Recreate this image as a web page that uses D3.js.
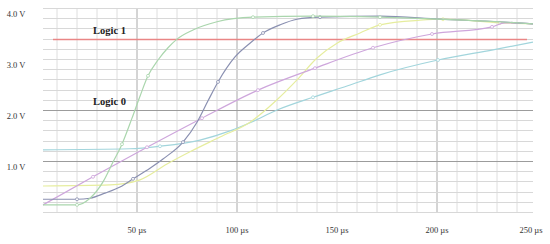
<!DOCTYPE html>
<html>
<head>
<meta charset="utf-8">
<script src="https://d3js.org/d3.v7.min.js"></script>
<style>
  body { margin: 0; background: #fff; }
  text { font-family: "Liberation Serif", "DejaVu Serif", serif; fill: #333; }
</style>
</head>
<body>
<div id="chart"></div>
<script>
var width = 550, height = 244;

// time in microseconds, voltage in volts
var xTicks = [50, 100, 150, 200, 250];
var yTicks = [1.0, 2.0, 3.0, 4.0];
var logic1 = 3.39;
var logic0 = 2.0;

var greenData = [[3,0.14],[20,0.14],[26.5,0.27],[33,0.59],[38,0.98],[42.5,1.33],[47.5,1.84],[51.5,2.27],[55.5,2.67],[60.5,2.98],[65.5,3.22],[70,3.39],[78,3.57],[90,3.73],[108,3.82],[138,3.84],[171.5,3.82],[201.5,3.78],[231.5,3.73],[248,3.69]];
var greenMarks = [1, 5, 8, 14, 15, 16];

var slateData = [[3,0.25],[20,0.25],[26.5,0.27],[34,0.37],[41.5,0.49],[48,0.65],[56.5,0.86],[63,1.04],[73,1.37],[80,1.76],[85.5,2.18],[90.5,2.55],[99,3.04],[106.5,3.31],[113,3.51],[121.5,3.67],[130,3.78],[141.5,3.82],[171.5,3.84],[201.5,3.78],[231.5,3.73],[248,3.69]];
var slateMarks = [1, 5, 8, 11, 14, 17];

var purpleData = [[3,0.14],[28,0.69],[55,1.27],[82.5,1.84],[110.5,2.39],[139,2.82],[168,3.22],[197.5,3.49],[227.5,3.63],[234,3.71],[248,3.69]];
var purpleMarks = [1, 2, 3, 4, 5, 6, 7, 8];

var yellowData = [[3,0.51],[36.5,0.53],[51.5,0.63],[65,0.94],[76.5,1.18],[91.5,1.47],[106.5,1.76],[120,2.2],[130,2.59],[140,3.02],[150,3.31],[161.5,3.51],[171.5,3.67],[191.5,3.76],[203,3.78],[231.5,3.71],[248,3.69]];
var yellowMarks = [12, 14, 15];

var cyanData = [[3,1.22],[46.5,1.24],[61.5,1.29],[81.5,1.41],[96.5,1.59],[106.5,1.75],[120,2.0],[138,2.25],[155,2.47],[171.5,2.69],[200.5,2.98],[228,3.18],[248,3.33]];
var cyanMarks = [2, 7, 10];

var series = [
  { data: cyanData, marks: cyanMarks, color: "#a2d5dc" },
  { data: yellowData, marks: yellowMarks, color: "#e6ed9e" },
  { data: purpleData, marks: purpleMarks, color: "#cea6dc" },
  { data: slateData, marks: slateMarks, color: "#8a90b1" },
  { data: greenData, marks: greenMarks, color: "#aad6ad" }
];

var x = d3.scaleLinear().domain([3, 248]).range([43, 533]);
var y = d3.scaleLinear().domain([0, 4]).range([212, 8]);

var svg = d3.select("#chart")
    .append("svg")
    .attr("width", width)
    .attr("height", height)

svg.append("rect").attr("width", width).attr("height", height).attr("fill", "#fff");

// minor grid
var grid = svg.append("g");
grid.selectAll("line.vx")
    .data(d3.range(10, 241, 10))
    .enter().append("line")
    .attr("x1", function(d){ return x(d); })
    .attr("x2", function(d){ return x(d); })
    .attr("y1", y(4)).attr("y2", y(0))
    .attr("stroke", function(d){ return (d == 50 || d == 100 || d == 200) ? "#aaa" : "#dedede"; })
    .attr("stroke-width", 1);

grid.selectAll("line.hy")
    .data(d3.range(0, 4.01, 0.2))
    .enter().append("line")
    .attr("x1", x(3)).attr("x2", x(248))
    .attr("y1", function(d){ return Math.round(y(d)) + 0.5; })
    .attr("y2", function(d){ return Math.round(y(d)) + 0.5; })
    .attr("stroke", "#d8d8d8")
    .attr("stroke-width", 1);

// darker lines at 1 V and logic 0
grid.selectAll("line.major")
    .data([1.0, logic0])
    .enter().append("line")
    .attr("x1", x(3)).attr("x2", x(248))
    .attr("y1", function(d){ return Math.round(y(d)) + 0.5; })
    .attr("y2", function(d){ return Math.round(y(d)) + 0.5; })
    .attr("stroke", "#9c9c9c")
    .attr("stroke-width", 1);

// logic 1 threshold
svg.append("line")
    .attr("x1", x(8)).attr("x2", x(245))
    .attr("y1", Math.round(y(logic1)) + 0.5).attr("y2", Math.round(y(logic1)) + 0.5)
    .attr("stroke", "#e98686")
    .attr("stroke-width", 1.4);

svg.append("text").attr("x", x(28)).attr("y", y(logic1) - 5)
    .style("font-size", "10.5px").style("font-weight", "bold").style("fill", "#222")
    .text("Logic 1");
svg.append("text").attr("x", x(28)).attr("y", y(logic0) - 5)
    .style("font-size", "10.5px").style("font-weight", "bold").style("fill", "#222")
    .text("Logic 0");

// curves
var line = d3.line()
    .x(function(d){ return x(d[0]); })
    .y(function(d){ return y(d[1]); })
    .curve(d3.curveMonotoneX);

series.forEach(function(s) {
    svg.append("path")
        .datum(s.data)
        .attr("d", line)
        .attr("fill", "none")
        .attr("stroke", s.color)
        .attr("stroke-width", 1.2);

    svg.append("g").selectAll("circle")
        .data(s.marks.map(function(i){ return s.data[i]; }))
        .enter().append("circle")
        .attr("cx", function(d){ return x(d[0]); })
        .attr("cy", function(d){ return y(d[1]); })
        .attr("r", 1.5)
        .attr("fill", "#fff")
        .attr("stroke", s.color)
        .attr("stroke-width", 0.8);
});

// tick labels
svg.append("g").selectAll("text")
    .data(yTicks)
    .enter().append("text")
    .attr("x", 16)
    .attr("y", function(d){ return y(d) + 7; })
    .attr("text-anchor", "middle")
    .attr("dominant-baseline", "middle")
    .style("font-size", "8.5px")
    .text(function(d){ return d.toFixed(1) + " V"; });

svg.append("g").selectAll("text")
    .data(xTicks)
    .enter().append("text")
    .attr("x", function(d){ return Math.min(x(d), 531); })
    .attr("y", 233)
    .attr("text-anchor", "middle")
    .style("font-size", "8.5px")
    .text(function(d){ return d + " \u00b5s"; });
</script>
</body>
</html>
